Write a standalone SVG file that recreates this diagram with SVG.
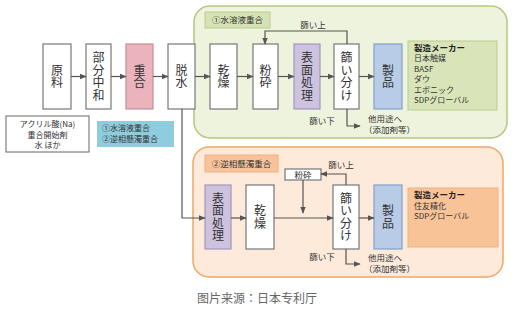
<svg xmlns="http://www.w3.org/2000/svg" width="517" height="313" viewBox="0 0 517 313">
<style>
text{font-family:"Noto Sans CJK JP","Noto Sans CJK SC",sans-serif;fill:#333}
.v{font-size:12px;text-anchor:middle;writing-mode:vertical-rl;letter-spacing:0.5px}
.s{font-size:8.5px}
.t{font-size:8px}
.m{font-size:8px}
.box{fill:#fff;stroke:#777;stroke-width:1.2}
.ln{fill:none;stroke:#555;stroke-width:1.2}
</style>
<defs>
<marker id="a" viewBox="0 0 10 10" refX="9" refY="5" markerWidth="6" markerHeight="6" orient="auto"><path d="M0,1 L10,5 L0,9 z" fill="#555"/></marker>
</defs>
<rect width="517" height="313" fill="#fff"/>
<g id="group-aqueous">
<rect x="194" y="6" width="313" height="132" rx="16" fill="#eef3dd" stroke="#b3c77c" stroke-width="1.5"/>
<rect x="205" y="12" width="65" height="16" fill="#d6e2b3" stroke="#bccd90"/>
<text class="s" x="237.5" y="23" text-anchor="middle">①水溶液重合</text>
</g>
<g id="group-reverse">
<rect x="193" y="147" width="310" height="130" rx="16" fill="#fdeadb" stroke="#f0a866" stroke-width="1.5"/>
<rect x="205" y="155" width="73" height="17" fill="#f8c39a" stroke="#f0b080"/>
<text class="s" x="241.5" y="166.5" text-anchor="middle">②逆相懸濁重合</text>
</g>
<g id="n-raw"><rect class="box" x="43" y="44" width="28" height="65"/><text class="v" x="57" y="76.5">原料</text></g>
<g id="n-neutral"><rect class="box" x="86" y="44" width="25" height="65"/><text class="v" x="98.5" y="76.5">部分中和</text></g>
<g id="n-poly"><rect x="126" y="44" width="27" height="65" fill="#ebb4bc" stroke="#c98a94" stroke-width="1.2"/><text class="v" x="139.5" y="76.5">重合</text></g>
<g id="n-dehyd"><rect class="box" x="168" y="44" width="27" height="65"/><text class="v" x="181.5" y="76.5">脱水</text></g>
<g id="n-dry1"><rect class="box" x="210" y="44" width="27" height="65"/><text class="v" x="223.5" y="76.5">乾燥</text></g>
<g id="n-crush1"><rect class="box" x="253" y="44" width="25" height="65"/><text class="v" x="265.5" y="76.5">粉砕</text></g>
<g id="n-surf1"><rect x="294" y="44" width="26" height="65" fill="#cec3de" stroke="#a497bd" stroke-width="1.2"/><text class="v" x="307" y="76.5">表面処理</text></g>
<g id="n-sieve1"><rect class="box" x="334" y="44" width="25" height="65"/><text class="v" x="346.5" y="76.5">篩い分け</text></g>
<g id="n-prod1"><rect x="374" y="44" width="28" height="65" fill="#b8cce8" stroke="#83a0cb" stroke-width="1.2"/><text class="v" x="388" y="76.5">製品</text></g>
<g id="n-maker1"><rect x="408" y="41" width="89" height="69" fill="#d9e5b9" stroke="#b9cc8e"/>
<text class="m"><tspan x="414" y="51" font-weight="bold" fill="#222" font-size="8.5">製造メーカー</tspan><tspan x="414" y="61.4">日本触媒</tspan><tspan x="414" y="71.8">BASF</tspan><tspan x="414" y="82.2">ダウ</tspan><tspan x="414" y="92.6">エボニック</tspan><tspan x="414" y="103">SDPグローバル</tspan></text></g>
<g id="n-materials"><rect x="6" y="116" width="83" height="36" fill="#fff" stroke="#666"/><text class="t" text-anchor="middle"><tspan x="47.5" y="127">アクリル酸(Na)</tspan><tspan x="47.5" y="137.5">重合開始剤</tspan><tspan x="47.5" y="148">水 ほか</tspan></text></g>
<g id="n-methods"><rect x="97" y="121" width="77" height="26" fill="#8fccdd"/><text class="t"><tspan x="102" y="131">①水溶液重合</tspan><tspan x="102" y="141.5">②逆相懸濁重合</tspan></text></g>
<g id="n-surf2"><rect x="205" y="185" width="26" height="64" fill="#cec3de" stroke="#a497bd" stroke-width="1.2"/><text class="v" x="218" y="217">表面処理</text></g>
<g id="n-dry2"><rect class="box" x="246" y="185" width="28" height="64"/><text class="v" x="260" y="217">乾燥</text></g>
<g id="n-crush2"><rect class="box" x="285" y="169" width="36" height="11"/><text class="s" x="303" y="177.5" text-anchor="middle" font-size="7.5">粉砕</text></g>
<g id="n-sieve2"><rect class="box" x="333" y="185" width="26" height="64"/><text class="v" x="346" y="217">篩い分け</text></g>
<g id="n-prod2"><rect x="374" y="185" width="28" height="64" fill="#b8cce8" stroke="#83a0cb" stroke-width="1.2"/><text class="v" x="388" y="217">製品</text></g>
<g id="n-maker2"><rect x="408" y="188" width="90" height="59" fill="#f9c398" stroke="#f3b081"/>
<text class="m"><tspan x="414" y="198" font-weight="bold" fill="#222" font-size="8.5">製造メーカー</tspan><tspan x="414" y="208.5">住友精化</tspan><tspan x="414" y="219">SDPグローバル</tspan></text></g>
<g id="connectors">
<path class="ln" d="M71,76.5H86" marker-end="url(#a)"/>
<path class="ln" d="M111,76.5H126" marker-end="url(#a)"/>
<path class="ln" d="M153,76.5H168" marker-end="url(#a)"/>
<path class="ln" d="M195,76.5H210" marker-end="url(#a)"/>
<path class="ln" d="M237,76.5H253" marker-end="url(#a)"/>
<path class="ln" d="M278,76.5H294" marker-end="url(#a)"/>
<path class="ln" d="M320,76.5H334" marker-end="url(#a)"/>
<path class="ln" d="M359,76.5H374" marker-end="url(#a)"/>
<path class="ln" d="M347,44V31H265V44" marker-end="url(#a)"/>
<path class="ln" d="M347,109V126H360" marker-end="url(#a)"/>
<path class="ln" d="M182,109V218H205" marker-end="url(#a)"/>
<path class="ln" d="M231,218H246" marker-end="url(#a)"/>
<path class="ln" d="M274,218H333" marker-end="url(#a)"/>
<path class="ln" d="M303,180V213" marker-end="url(#a)"/>
<path class="ln" d="M346,185V174H321" marker-end="url(#a)"/>
<path class="ln" d="M359,218H374" marker-end="url(#a)"/>
<path class="ln" d="M346,249V264H360" marker-end="url(#a)"/>
<text class="s" x="313" y="28" text-anchor="middle">篩い上</text>
<text class="s" x="322" y="124" text-anchor="middle">篩い下</text>
<text class="s" x="368" y="122">他用途へ</text>
<text class="s" x="364" y="133">（添加剤等）</text>
<text class="s" x="341" y="168" text-anchor="middle">篩い上</text>
<text class="s" x="322" y="260" text-anchor="middle">篩い下</text>
<text class="s" x="368" y="261">他用途へ</text>
<text class="s" x="364" y="272">（添加剤等）</text>
</g>
<text x="257" y="303" text-anchor="middle" font-size="12" style="fill:#666">图片来源：日本专利厅</text>
</svg>
